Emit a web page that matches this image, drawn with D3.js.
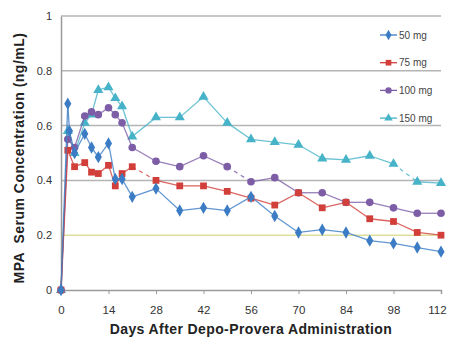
<!DOCTYPE html>
<html>
<head>
<meta charset="utf-8">
<script src="https://cdn.jsdelivr.net/npm/d3@7"></script>
<style>
  body { margin: 0; background: #fff; }
  svg { font-family: "Liberation Sans", Arial, sans-serif; }
</style>
</head>
<body>
<div id="chart"></div>
<script>
// day of each sample (2.5 only used by the 50 mg series)
const days = [0, 2, 2.5, 4, 7, 9, 11, 14, 16, 18, 21, 28, 35, 42, 49, 56, 63, 70, 77, 84, 91, 98, 105, 112]

const seriesNames = ["50 mg", "75 mg", "100 mg", "150 mg"]

const mg50 = [0, 0.68, 0.58, 0.50, 0.57, 0.52, 0.485, 0.535, 0.405, 0.405, 0.34, 0.37, 0.29, 0.30, 0.29, 0.34, 0.27, 0.21, 0.22, 0.21, 0.18, 0.17, 0.155, 0.14]
const mg75 = [0, 0.51, null, 0.45, 0.465, 0.43, 0.425, 0.455, 0.38, 0.425, 0.45, 0.40, 0.38, 0.38, 0.36, 0.335, 0.31, 0.355, 0.30, 0.32, 0.26, 0.25, 0.21, 0.20]
const mg100 = [0, 0.55, null, 0.52, 0.635, 0.65, 0.64, 0.665, 0.64, 0.61, 0.52, 0.47, 0.45, 0.49, 0.45, 0.395, 0.41, 0.355, 0.355, 0.32, 0.32, 0.30, 0.28, 0.28]
const mg150 = [0, 0.58, null, 0.50, 0.61, 0.64, 0.73, 0.74, 0.70, 0.67, 0.56, 0.63, 0.63, 0.705, 0.61, 0.55, 0.54, 0.53, 0.48, 0.475, 0.49, 0.46, 0.395, 0.39]

// segment starting at this day is drawn dashed
const dashedFromDay = [null, 21, 49, 98]

const xTicks = [0, 14, 28, 42, 56, 70, 84, 98, 112]
const yTicks = [0, 0.2, 0.4, 0.6, 0.8, 1]

const colors = ["#3b7cc4", "#d23f3a", "#7d5ea6", "#46b3c8"]
const shapes = [d3.symbolDiamond, d3.symbolSquare, d3.symbolCircle, d3.symbolTriangle]
const shapeSizes = [44, 46, 46, 44]

const W = 449, H = 344
const svg = d3.select("#chart").append("svg").attr("width", W).attr("height", H)

const x = d3.scaleLinear().domain([0, 112]).range([61, 441])
const y = d3.scaleLinear().domain([0, 1]).range([290, 16])

// gridlines
svg.append("g")
  .selectAll("line")
  .data(yTicks.filter((d) => d > 0))
  .join("line")
  .attr("x1", x(0))
  .attr("x2", x(112))
  .attr("y1", (d) => y(d))
  .attr("y2", (d) => y(d))
  .attr("stroke", (d) => (d == 0.2 ? "#dcdf9c" : "#b4b4b4"))
  .attr("stroke-width", 1.5)

// axes
const xAxis = svg.append("g")
  .attr("transform", `translate(0,${y(0)})`)
  .call(d3.axisBottom(x).tickValues(xTicks).tickSize(4).tickPadding(12).tickFormat(d3.format("d")))
xAxis.select(".domain").attr("stroke", "#9a9a9a").attr("stroke-width", 1.5)
xAxis.selectAll(".tick line").attr("stroke", "#9a9a9a")
xAxis.selectAll("text")
  .attr("font-size", 11.5)
  .attr("fill", "#333")
  .attr("dx", (d) => (d == 112 ? -4 : 0))

const yAxis = svg.append("g")
  .attr("transform", `translate(${x(0)},0)`)
  .call(d3.axisLeft(y).tickValues(yTicks).tickSize(0).tickPadding(9).tickFormat((d) => (d == 0 || d == 1 ? d : d3.format(".1f")(d))))
yAxis.select(".domain").attr("stroke", "#9a9a9a").attr("stroke-width", 1.5)
yAxis.selectAll("text").attr("font-size", 11).attr("fill", "#333")

// series
const allSeries = [mg50, mg75, mg100, mg150].map((vals, i) => ({
  name: seriesNames[i],
  color: colors[i],
  shape: shapes[i],
  size: shapeSizes[i],
  dashFrom: dashedFromDay[i],
  points: days.map((d, j) => ({ day: d, value: vals[j] })).filter((p) => p.value != null),
}))

// draw back to front so 50 mg ends on top
allSeries.slice().reverse().forEach((s) => {
  const segs = d3.pairs(s.points)
  svg.append("g")
    .selectAll("line")
    .data(segs)
    .join("line")
    .attr("x1", (d) => x(d[0].day))
    .attr("y1", (d) => y(d[0].value))
    .attr("x2", (d) => x(d[1].day))
    .attr("y2", (d) => y(d[1].value))
    .attr("stroke", s.color)
    .attr("stroke-opacity", 0.8)
    .attr("stroke-width", 1.3)
    .attr("stroke-dasharray", (d) => (d[0].day === s.dashFrom ? "4,4" : null))

  svg.append("g")
    .selectAll("path")
    .data(s.points)
    .join("path")
    .attr("transform", (d) => `translate(${x(d.day)},${y(d.value)})`)
    .attr("d", d3.symbol().type(s.shape).size(s.size))
    .attr("fill", s.color)
})

// legend
const legend = svg.append("g")
  .selectAll("g")
  .data(allSeries)
  .join("g")
  .attr("transform", (d, i) => `translate(380,${35 + i * 27.7})`)
legend.append("line")
  .attr("x1", 0).attr("x2", 17)
  .attr("stroke", (d) => d.color)
  .attr("stroke-width", 1.3)
legend.append("path")
  .attr("transform", "translate(8.5,0)")
  .attr("d", (d) => d3.symbol().type(d.shape).size(d.size * 0.7)())
  .attr("fill", (d) => d.color)
legend.append("text")
  .attr("x", 19)
  .attr("dy", "0.35em")
  .attr("font-size", 10)
  .attr("fill", "#444")
  .text((d) => d.name)

// axis titles
svg.append("text")
  .attr("x", 251)
  .attr("y", 334)
  .attr("text-anchor", "middle")
  .attr("font-size", 14)
  .attr("font-weight", "bold")
  .attr("letter-spacing", 0.4)
  .attr("fill", "#222")
  .text("Days After Depo-Provera Administration")

svg.append("text")
  .attr("transform", "translate(24,158) rotate(-90)")
  .attr("text-anchor", "middle")
  .attr("font-size", 14)
  .attr("font-weight", "bold")
  .attr("letter-spacing", 0.5)
  .attr("fill", "#222")
  .attr("xml:space", "preserve")
  .text("MPA  Serum Concentration (ng/mL)")
</script>
</body>
</html>
